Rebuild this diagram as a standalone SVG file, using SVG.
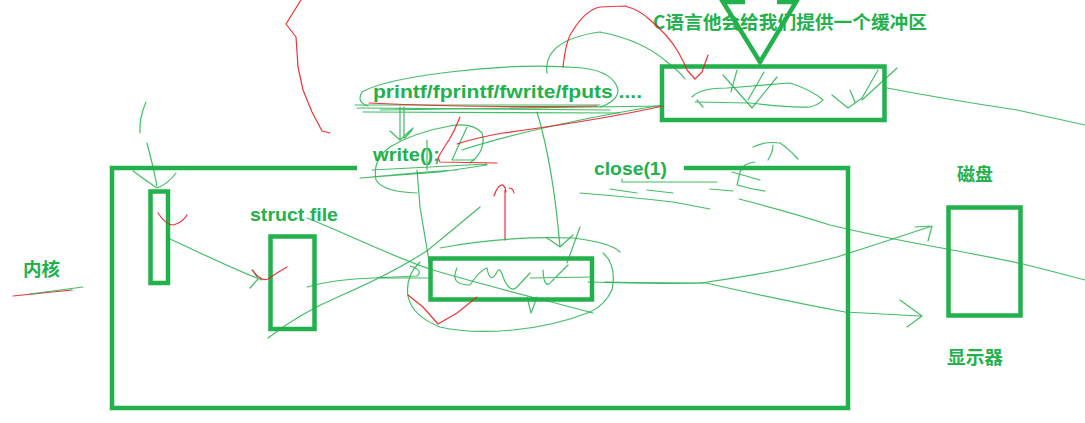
<svg xmlns="http://www.w3.org/2000/svg" width="1085" height="423" viewBox="0 0 1085 423">
<style>
.thick{fill:none;stroke:#22b14c;stroke-width:4.5}
.g{fill:none;stroke:#22b14c;stroke-width:1.2;stroke-linecap:round;stroke-linejoin:round;opacity:.85}
.r{fill:none;stroke:#ed1c24;stroke-width:1.2;stroke-linecap:round;stroke-linejoin:round;opacity:.9}
.t{fill:#22b14c;font-family:"Liberation Sans","Noto Sans CJK SC",sans-serif;font-weight:bold;font-size:19px}
.c{fill:#22b14c;font-family:"Noto Sans CJK SC",sans-serif;font-weight:bold;font-size:18px}
</style>
<rect width="1085" height="423" fill="#ffffff"/>
<g id="kernel">
<path class="thick" d="M357,168 L112,168 L112,408 L848,408 L848,168 L684,168"/>
<text class="c" x="23" y="276" textLength="37" lengthAdjust="spacingAndGlyphs">内核</text>
</g>
<g id="fd-array"><rect class="thick" x="150.5" y="191.5" width="17.5" height="91.5"/></g>
<g id="struct-file">
<rect class="thick" x="270.5" y="236.5" width="44" height="92.5"/>
<text class="t" x="250" y="221" textLength="88" lengthAdjust="spacingAndGlyphs">struct file</text>
</g>
<g id="kernel-buffer"><rect class="thick" x="430.5" y="258.5" width="161.5" height="41"/></g>
<g id="c-buffer">
<rect class="thick" x="662" y="66.5" width="222.5" height="53.5"/>
<polyline class="thick" points="745,2 723,2 760,62 796,2 777,2"/>
<text class="c" x="653" y="29" font-size="19" textLength="274" lengthAdjust="spacingAndGlyphs">C语言他会给我们提供一个缓冲区</text>
</g>
<g id="disk">
<rect class="thick" x="948.5" y="207.5" width="72" height="108"/>
<text class="c" x="957" y="181" textLength="36" lengthAdjust="spacingAndGlyphs">磁盘</text>
</g>
<g id="monitor"><text class="c" x="947" y="364" textLength="56" lengthAdjust="spacingAndGlyphs">显示器</text></g>
<g id="printf"><text class="t" x="373" y="98" textLength="269" lengthAdjust="spacingAndGlyphs">printf/fprintf/fwrite/fputs ....</text></g>
<g id="write"><text class="t" x="373" y="161" textLength="67" lengthAdjust="spacingAndGlyphs">write();</text></g>
<g id="close"><text class="t" x="594" y="175" textLength="73" lengthAdjust="spacingAndGlyphs">close(1)</text></g>
<g id="connectors">
<path class="g" d="M146,102 Q139,118 140,133 M147,143 Q153,165 157,186 M133,171 Q148,182 157,188 Q168,184 176,173"/>
<path class="r" d="M158,213 Q166,225 173,225 Q182,223 187,215"/>
<path class="g" d="M170,239 C205,255 235,270 262,280 M253,270 L258,279 L250,288"/>
<path class="r" d="M252,270 Q261,282 268,279 Q278,272 287,267"/>
<path class="g" d="M307,218 C350,235 395,258 433,270 C490,287 545,300 593,313"/>
<path class="g" d="M307,287 Q335,279 373,278 L417,276 Q424,270 410,266"/>
<path class="g" d="M268,338 Q300,313 340,296 Q395,272 428,250 Q455,228 480,207"/>
<path class="r" d="M13,296 L72,290"/>
<path class="g" d="M30,294 L83,287"/>
<path class="r" d="M301,0 L286,24 L296,37 L298,67 L303,90 L312,112 L322,131 L330,133"/>
<path class="g" d="M600,107 Q618,101 618,90 Q614,72 583,68 Q520,63 450,72 Q383,80 362,92 Q356,102 368,106"/>
<path class="g" d="M355,105 L600,105 M357,108 L610,110 M363,112 L620,113 M380,110 L663,106"/>
<path class="r" d="M369,103 Q480,108 597,106"/>
<path class="g" d="M400,107 L400,140 M404,107 L404,138 M390,131 L400,140 L413,128 M405,138 L412,130"/>
<path class="g" d="M470,163 Q487,150 482,133 Q472,122 450,126 Q415,132 390,147 Q372,160 376,180 Q383,192 417,193"/>
<path class="g" d="M372,170 L487,164 M362,178 Q420,172 457,170 M360,178 L440,172 L487,165"/>
<path class="g" d="M427,140 L427,170 M467,127 L452,160 L475,160 M462,150 Q540,125 663,105"/>
<path class="r" d="M460,117 Q455,130 449,140 Q441,152 438,158 L440,162 L497,163"/>
<path class="r" d="M663,106 Q600,120 503,133 Q475,138 457,144"/>
<path class="g" d="M547,73 Q543,40 600,32 Q642,40 667,62 Q680,72 685,79"/>
<path class="r" d="M563,67 Q566,40 572,32 Q585,10 600,7 L625,6 Q640,10 650,20 Q668,35 677,50 Q684,62 687,70 L695,79 L702,72 L708,55"/>
<path class="g" d="M417,170 L420,207 L430,267"/>
<path class="g" d="M537,112 Q553,165 560,247 M547,238 L560,247 L573,235 M580,227 L567,263"/>
<path class="r" d="M505,240 L505,190 M494,196 Q498,184 503,185 Q506,188 506,192 M509,188 Q513,188 514,193"/>
<path class="g" d="M440,248 Q500,236 573,238 Q612,243 620,252 M603,253 Q617,265 612,290 Q605,305 590,312 Q555,326 513,330 Q470,334 440,327 Q412,316 408,296 Q405,276 420,262"/>
<path class="r" d="M408,295 L423,307 L438,324 L457,313 L477,297"/>
<path class="g" d="M457,268 Q449,285 470,285 Q480,270 487,268 Q490,285 497,272 Q500,266 503,277 Q510,294 517,287 L530,273 M543,270 Q544,291 552,281 L568,265 M380,278 L430,278 M530,278 L592,277 M527,297 L531,313 L537,297"/>
<path class="g" d="M588,282 Q650,284 701,283 Q780,272 837,257 Q890,240 932,226 M915,227 L932,226 L928,241"/>
<path class="g" d="M605,282 Q660,283 706,283 Q780,300 845,312 L920,316 M900,300 L922,316 L907,327"/>
<path class="g" d="M739,199 Q790,212 830,225 Q880,237 947,249 Q990,257 1023,264 Q1055,272 1085,280"/>
<path class="g" d="M887,88 Q950,100 1017,110 L1085,125"/>
<path class="g" d="M692,97 Q700,88 727,88 L790,83 Q812,90 823,100 M697,100 L703,107 M695,102 L750,103 Q790,108 810,107 Q820,104 823,100"/>
<path class="g" d="M723,75 L752,108 L777,77 M764,72 L748,100 M737,70 L731,92 M832,95 L848,108 L862,98 L878,70 M850,90 L855,102 M897,68 L862,100"/>
<path class="g" d="M622,179 L622,182 L717,182"/>
<path class="g" d="M753,147 Q765,141 780,143 Q788,148 798,159 M773,145 Q773,152 768,160 M755,162 Q743,163 740,172 L737,185 Q750,189 765,191 M732,172 L760,180"/>
<path class="g" d="M580,193 Q620,196 673,202 L710,209 M610,189 L637,193 M647,190 L673,193 M710,189 L733,191"/>
</g>
</svg>
